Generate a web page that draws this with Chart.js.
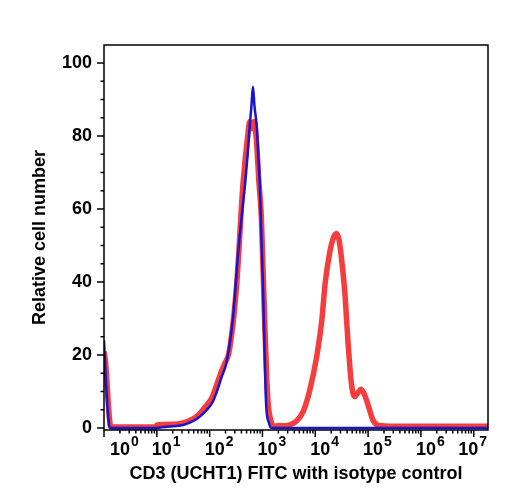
<!DOCTYPE html>
<html>
<head>
<meta charset="utf-8">
<script src="https://cdn.jsdelivr.net/npm/chart.js@4.4.0/dist/chart.umd.min.js"></script>
<style>
  html, body { margin: 0; padding: 0; background: #fff; }
</style>
</head>
<body>
<canvas id="cd3Chart" width="508" height="500"></canvas>
<script>
// x values are log10 of the FITC channel (decades), y is relative cell number
let isoLog =   [0, 0.04, 0.1, 0.13, 0.5, 1.0, 1.1, 1.3, 1.5, 1.7, 1.81, 1.95, 2.06, 2.15, 2.22, 2.32, 2.44, 2.54, 2.62, 2.67, 2.72, 2.76, 2.79, 2.82, 2.85, 2.89, 2.92, 2.95, 3.01, 3.04, 3.07, 3.12, 3.17, 3.5, 4.5, 5.5, 6.5, 7.27];
let isoCount = [24, 12, 0.5, 0, 0, 0, 0.2, 0.5, 0.8, 2.0, 3.1, 5.0, 7.2, 10.5, 13.7, 18, 30, 48, 60, 66.6, 75, 83, 88, 93.5, 88, 83, 75, 66.6, 39, 21, 6.3, 1.5, 0, 0, 0, 0, 0, 0];

let cd3Log =   [0, 0.03, 0.1, 0.13, 0.5, 0.99, 1.0, 1.3, 1.5, 1.75, 1.9, 2.04, 2.15, 2.22, 2.28, 2.37, 2.51, 2.63, 2.72, 2.76, 2.80, 2.84, 2.89, 2.93, 2.98, 3.04, 3.08, 3.11, 3.16, 3.2, 3.3, 3.5, 3.65, 3.77, 3.89, 4.02, 4.12, 4.19, 4.26, 4.34, 4.40, 4.45, 4.50, 4.56, 4.62, 4.68, 4.74, 4.80, 4.86, 4.92, 5.0, 5.09, 5.19, 5.5, 7.27];
let cd3Count = [21, 18, 3, 0.3, 0.3, 0.3, 0.8, 1.0, 1.4, 3.1, 5.5, 8.2, 12.5, 15.4, 17.5, 21, 39, 66.6, 80, 84, 82, 84, 78, 68, 57.5, 30, 14, 6.3, 2, 0.5, 0.6, 0.8, 2, 4.5, 10, 19, 29, 40, 47, 52, 53.3, 51.5, 46, 37, 23.6, 12.7, 8.6, 9.5, 10.6, 9.5, 6.3, 2.2, 0.8, 0.5, 0.5];

let xDecades = [0, 1, 2, 3, 4, 5, 6, 7];
let yTicks = [0, 20, 40, 60, 80, 100];

const FONT = "'Liberation Sans', Arial, Helvetica, sans-serif";

// frame, tick marks and 10^n labels
const axisDecor = {
  id: 'axisDecor',
  afterDraw(chart) {
    const { ctx, chartArea: a, scales: { x, y } } = chart;
    ctx.save();
    ctx.strokeStyle = '#000';
    ctx.lineWidth = 1.5;
    ctx.strokeRect(a.left, a.top, a.right - a.left, a.bottom - a.top);

    ctx.beginPath();
    xDecades.forEach(d => {
      const px = x.getPixelForValue(d);
      ctx.moveTo(px, a.bottom);
      ctx.lineTo(px, a.bottom + 7);
      for (let k = 2; k < 10; k++) {
        const v = d + Math.log10(k);
        if (v > x.max) break;
        const mpx = x.getPixelForValue(v);
        ctx.moveTo(mpx, a.bottom);
        ctx.lineTo(mpx, a.bottom + 3.5);
      }
    });
    for (let v = 0; v <= 100; v += 5) {
      const py = y.getPixelForValue(v);
      const len = v % 20 === 0 ? 7 : 3.5;
      ctx.moveTo(a.left, py);
      ctx.lineTo(a.left - len, py);
    }
    ctx.stroke();

    ctx.fillStyle = '#000';
    ctx.textBaseline = 'alphabetic';
    ctx.textAlign = 'left';
    xDecades.forEach(d => {
      const px = x.getPixelForValue(d);
      ctx.font = 'bold 18px ' + FONT;
      const wb = ctx.measureText('10').width;
      ctx.font = 'bold 14px ' + FONT;
      const we = ctx.measureText(String(d)).width;
      let left = px - 5;
      left = Math.max(left, a.left + 6);
      left = Math.min(left, a.right - 1 - wb - we - 1);
      ctx.font = 'bold 18px ' + FONT;
      ctx.fillText('10', left, 455);
      ctx.font = 'bold 14px ' + FONT;
      ctx.fillText(String(d), left + wb + 1, 446);
    });
    ctx.restore();
  }
};

const ctx = document.getElementById('cd3Chart').getContext('2d');

new Chart(ctx, {
  type: 'line',
  data: {
    datasets: [{
      label: 'Isotype control',
      data: isoLog.map((v, i) => ({ x: v, y: isoCount[i] })),
      borderColor: 'rgb(25, 20, 205)',
      borderWidth: 2.5,
      pointRadius: 0,
      cubicInterpolationMode: 'monotone',
      fill: false
    }, {
      label: 'CD3 (UCHT1) FITC',
      data: cd3Log.map((v, i) => ({ x: v, y: cd3Count[i] })),
      borderColor: 'rgba(245, 40, 40, 0.9)',
      borderWidth: 5.5,
      pointRadius: 0,
      cubicInterpolationMode: 'monotone',
      fill: false
    }]
  },
  plugins: [axisDecor],
  options: {
    responsive: false,
    animation: false,
    layout: { padding: { left: 0, right: 20, top: 45, bottom: 0 } },
    plugins: {
      legend: { display: false },
      tooltip: { enabled: false }
    },
    scales: {
      x: {
        type: 'linear',
        min: 0,
        max: 7.27,
        grid: { display: false },
        border: { display: false },
        ticks: { display: false },
        afterFit: s => { s.height = 70; },
        title: {
          display: true,
          text: 'CD3 (UCHT1) FITC with isotype control',
          color: '#000',
          font: { family: FONT, size: 18, weight: 'bold' },
          padding: { top: 0, bottom: 15 }
        }
      },
      y: {
        min: -0.55,
        max: 104.95,
        grid: { display: false, tickLength: 8 },
        border: { display: false },
        afterBuildTicks: s => { s.ticks = yTicks.map(v => ({ value: v })); },
        afterFit: s => { s.width = 104; },
        ticks: {
          color: '#000',
          padding: 4,
          font: { family: FONT, size: 18, weight: 'bold' }
        },
        title: {
          display: true,
          text: 'Relative cell number',
          color: '#000',
          font: { family: FONT, size: 18, weight: 'bold' },
          padding: { top: 29, bottom: 0 }
        }
      }
    }
  }
});
</script>
</body>
</html>
